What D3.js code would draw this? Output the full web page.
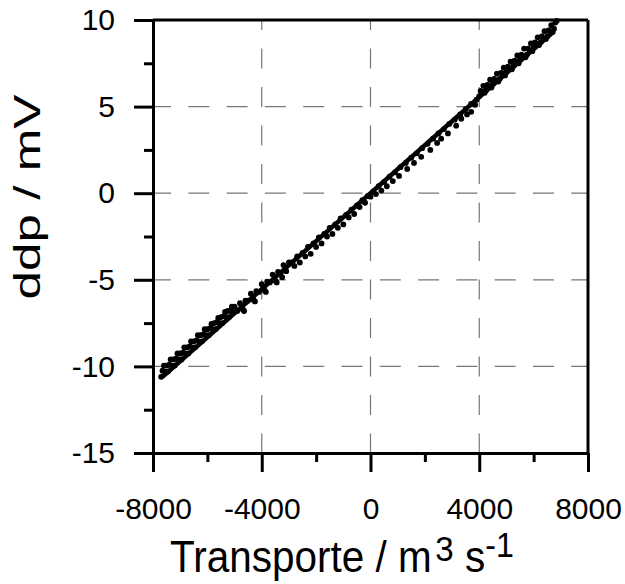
<!DOCTYPE html>
<html>
<head>
<meta charset="utf-8">
<script src="https://cdn.jsdelivr.net/npm/d3@7"></script>
<style>
  body { margin: 0; background: #fff; }
  text { font-family: "Liberation Sans", Arial, sans-serif; fill: #000; }
</style>
</head>
<body>
<svg id="chart" width="625" height="584"></svg>
<script>
// 눈금 값
const xTicks = [-8000, -4000, 0, 4000, 8000];
const xMinor = [-6000, -2000, 2000, 6000];
const yTicks = [10, 5, 0, -5, -10, -15];
const yMinor = [7.5, 2.5, -2.5, -7.5, -12.5];
const xGrid = [-4000, 0, 4000];
const yGrid = [5, 0, -5, -10];

// 회귀선 (양 끝점)
const fitLine = [[-7650, -10.6], [6750, 9.35]];

// 관측값 [수송량, 전위차]
const obs = [
  [-7700,-10.6],[-7650,-10.25],[-7600,-9.95],[-7550,-10.3],[-7500,-9.95],
  [-7450,-10.3],[-7400,-9.9],[-7350,-9.6],[-7300,-9.95],[-7250,-9.6],
  [-7200,-9.95],[-7150,-9.55],[-7100,-9.25],[-7050,-9.6],[-7000,-9.25],
  [-6950,-9.6],[-6900,-9.2],[-6850,-8.9],[-6800,-9.25],[-6750,-8.9],
  [-6700,-9.25],[-6650,-8.85],[-6600,-8.55],[-6550,-8.9],[-6500,-8.55],
  [-6450,-8.9],[-6400,-8.5],[-6350,-8.2],[-6300,-8.55],[-6250,-8.2],
  [-6200,-8.55],[-6150,-8.15],[-6100,-7.85],[-6050,-8.2],[-6000,-7.85],
  [-5950,-8.2],[-5900,-7.8],[-5850,-7.55],[-5800,-7.85],[-5750,-7.5],
  [-5700,-7.85],[-5650,-7.45],[-5600,-7.2],[-5550,-7.5],[-5500,-7.15],
  [-5450,-7.5],[-5400,-7.1],[-5350,-6.85],[-5300,-7.15],[-5250,-6.8],
  [-5200,-7.15],[-5150,-6.8],[-5100,-6.55],[-5050,-6.85],[-5000,-6.55],
  [-4900,-6.8],[-4800,-6.35],[-4700,-6.7],[-4650,-6.8],[-4600,-6.2],[-4500,-6.2],
  [-4400,-5.8],[-4300,-6.15],[-4250,-6.25],[-4200,-5.65],[-4100,-5.7],[-4000,-5.25],
  [-3900,-5.6],[-3850,-5.7],[-3800,-5.1],[-3700,-5.15],[-3600,-4.7],[-3500,-5.05],
  [-3450,-5.15],[-3400,-4.55],[-3300,-4.6],[-3250,-4.85],[-3200,-4.15],[-3100,-4.5],[-3000,-4.0],
  [-2900,-4.0],[-2800,-4.2],[-2700,-3.65],[-2600,-4.0],[-2500,-3.45],[-2400,-3.65],
  [-2300,-3.1],[-2200,-3.5],[-2100,-2.9],[-2000,-3.1],[-1900,-2.55],[-1800,-2.9],
  [-1700,-2.35],[-1600,-2.5],[-1500,-2.0],[-1400,-2.35],[-1300,-1.8],[-1200,-2.0],
  [-1100,-1.45],[-1000,-1.8],[-900,-1.25],[-800,-1.4],[-700,-0.95],[-600,-1.2],
  [-500,-0.7],[-400,-0.8],[-300,-0.4],[-200,-0.55],[-100,-0.15],[0,-0.2],
  [100,0.1],[200,-0.05],[300,0.4],[400,0.15],[500,0.65],[600,0.4],[700,0.95],[820,0.7],
  [900,1.2],[1050,1.0],[1100,1.5],[1300,1.75],[1350,1.4],[1500,2.05],[1600,1.75],[1700,2.3],
  [1865,2.1],[1900,2.6],[2100,2.85],[2200,2.5],[2300,3.15],[2450,2.9],[2500,3.45],[2600,3.15],
  [2700,3.7],[2850,3.45],[2900,4.0],[3100,4.25],[3150,3.9],[3300,4.55],[3340,4.3],[3500,4.85],
  [3550,4.55],[3700,5.15],[3705,4.7],[3850,5.1],[3900,5.4],
  [4000,5.6],[4050,5.9],[4100,5.85],[4150,6.2],[4200,5.8],[4250,5.95],[4300,6.25],[4350,6.15],
  [4400,6.55],[4450,6.1],[4500,6.3],[4550,6.6],[4600,6.5],[4650,6.9],[4700,6.45],[4750,6.6],
  [4800,6.95],[4850,6.9],[4900,7.25],[4950,6.8],[5000,7.0],[5050,7.3],[5100,7.2],[5150,7.6],
  [5200,7.15],[5250,7.35],[5300,7.65],[5350,7.55],[5400,7.95],[5450,7.5],[5500,7.7],[5550,8.0],
  [5600,7.9],[5650,8.35],[5700,7.85],[5750,8.0],[5800,8.35],[5850,8.25],[5900,8.65],[5950,8.2],
  [6000,8.4],[6050,8.7],[6100,8.6],[6150,9.0],[6200,8.55],[6250,8.7],[6300,9.05],[6350,8.95],
  [6400,9.35],[6450,8.9],[6500,9.05],[6550,9.4],[6600,9.3],[6650,9.7],[6700,9.3],[6750,9.5],
  [6800,9.85],[6850,9.95]
];

const margin = { left: 153, right: 37, top: 20, bottom: 131 };
const svg = d3.select('#chart');
const W = +svg.attr('width'), H = +svg.attr('height');
const w = W - margin.left - margin.right;
const h = H - margin.top - margin.bottom;

const x = d3.scaleLinear().domain([-8000, 8000]).range([0, w]);
const y = d3.scaleLinear().domain([-15, 10]).range([h, 0]);

const g = svg.append('g').attr('transform', `translate(${margin.left},${margin.top})`);

// 점선 격자
g.selectAll('.vgrid').data(xGrid).enter().append('line')
  .attr('x1', d => x(d)).attr('x2', d => x(d))
  .attr('y1', 0).attr('y2', h)
  .attr('stroke', '#777').attr('stroke-width', 1.2)
  .attr('stroke-dasharray', '20,18.5').attr('stroke-dashoffset', 10);
g.selectAll('.hgrid').data(yGrid).enter().append('line')
  .attr('x1', 0).attr('x2', w)
  .attr('y1', d => y(d)).attr('y2', d => y(d))
  .attr('stroke', '#777').attr('stroke-width', 1.2)
  .attr('stroke-dasharray', '21,17.3').attr('stroke-dashoffset', 3);

// 관측 점
g.selectAll('.pt').data(obs).enter().append('circle')
  .attr('cx', d => x(d[0])).attr('cy', d => y(d[1]))
  .attr('r', 2.9).attr('fill', '#000');

// 회귀선
g.append('path')
  .datum(fitLine)
  .attr('d', d3.line().x(d => x(d[0])).y(d => y(d[1])))
  .attr('stroke', '#000').attr('stroke-width', 4.5).attr('fill', 'none');

// 테두리 (위, 오른쪽)
g.append('line').attr('x1', 0).attr('x2', w).attr('y1', 0).attr('y2', 0)
  .attr('stroke', '#000').attr('stroke-width', 3);
g.append('line').attr('x1', w).attr('x2', w).attr('y1', 0).attr('y2', h)
  .attr('stroke', '#000').attr('stroke-width', 3);

// 축
function styleAxis(sel) {
  sel.selectAll('path, line').attr('stroke', '#000').attr('stroke-width', 3);
  sel.selectAll('text').style('font-size', '30px').attr('fill', '#000');
}
const fmt = d => String(d);
g.append('g').attr('transform', `translate(0,${h})`)
  .call(d3.axisBottom(x).tickValues(xMinor).tickSize(9).tickSizeOuter(0).tickFormat(''))
  .call(styleAxis);
g.append('g').attr('transform', `translate(0,${h})`)
  .call(d3.axisBottom(x).tickValues(xTicks).tickSize(19).tickSizeOuter(0).tickPadding(26).tickFormat(fmt))
  .call(styleAxis);
g.append('g')
  .call(d3.axisLeft(y).tickValues(yMinor).tickSize(9).tickSizeOuter(0).tickFormat(''))
  .call(styleAxis);
g.append('g')
  .call(d3.axisLeft(y).tickValues(yTicks).tickSize(19).tickSizeOuter(0).tickPadding(19).tickFormat(fmt))
  .call(styleAxis);

// 축 제목
const xt = svg.append('text')
  .attr('transform', 'translate(170,572) scale(0.92,1)')
  .style('font-size', '44px');
xt.append('tspan').text('Transporte / m');
xt.append('tspan').attr('dx', 4).attr('dy', -11).style('font-size', '36px').text('3');
xt.append('tspan').attr('dy', 11).text(' s');
xt.append('tspan').attr('dy', -15).style('font-size', '35px').text('-1');

svg.append('text')
  .attr('transform', `translate(40,197) rotate(-90)`)
  .attr('text-anchor', 'middle')
  .attr('textLength', 205)
  .attr('lengthAdjust', 'spacingAndGlyphs')
  .style('font-size', '36px')
  .text('ddp / mV');
</script>
</body>
</html>
